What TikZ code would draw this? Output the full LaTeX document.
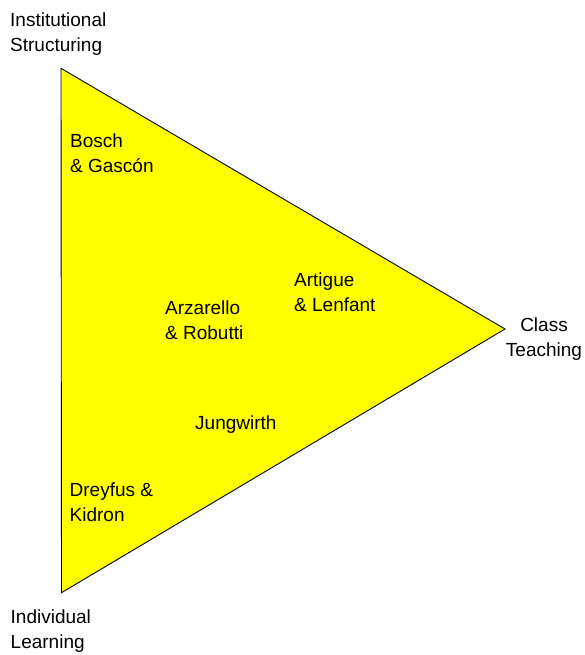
\documentclass[tikz,border=0pt]{standalone}
\usepackage{fontspec}
\setmainfont{Liberation Sans}
\begin{document}
\begin{tikzpicture}[x=1bp,y=-1bp,
  lbl/.style={inner sep=0pt,align=left,anchor=base west,font=\fontsize{19bp}{25bp}\selectfont},
  clbl/.style={inner sep=0pt,align=center,anchor=base,font=\fontsize{19bp}{25bp}\selectfont},
  tri/.style={fill={rgb,255:red,255;green,255;blue,0},draw=black,line width=0.9bp,line join=miter}]
\useasboundingbox (0,0) rectangle (585,655);
\coordinate (top) at (61,68.3);
\coordinate (right) at (505,329);
\coordinate (bot) at (61.5,592.7);
\draw[tri] (top) -- (right) -- (bot) -- cycle;
% anchors sit on the baseline of the last line
\node[lbl] (inst) at (10,52) {Institutional\\Structuring};
\node[clbl] (class) at (544,356.5) {Class\\Teaching};
\node[lbl] (indiv) at (10.5,648.3) {Individual\\Learning};
\node[lbl] (bosch) at (70,172) {Bosch\\\& Gasc\'on};
\node[lbl] (artigue) at (294,311) {Artigue\\\& Lenfant};
\node[lbl] (arz) at (165,339) {Arzarello\\\& Robutti};
\node[lbl] (jung) at (195,429.3) {Jungwirth};
\node[lbl] (drey) at (69.5,521) {Dreyfus \&\\Kidron};
\end{tikzpicture}
\end{document}
